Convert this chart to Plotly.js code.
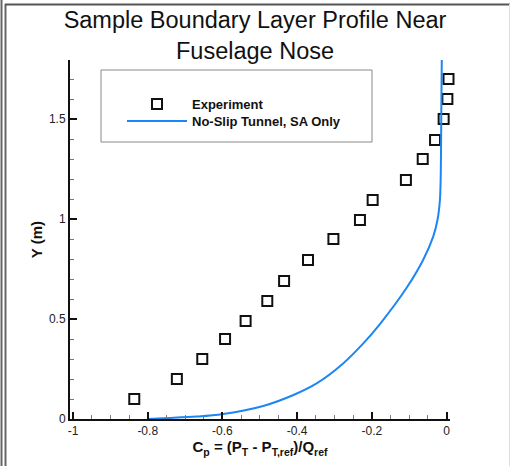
<!DOCTYPE html>
<html>
<head>
<meta charset="utf-8">
<script src="https://cdn.plot.ly/plotly-3.0.1.min.js"></script>
<style>
  html, body { margin: 0; padding: 0; background: #fff; }
  #chart { width: 510px; height: 466px; }
</style>
</head>
<body>
<div id="chart"></div>
<script>
// Experiment (open squares)
const expCp = [-0.836, -0.722, -0.654, -0.593, -0.538, -0.480, -0.435, -0.371, -0.303, -0.232, -0.198, -0.109, -0.064, -0.031, -0.008, 0.002, 0.005];
const expY  = [0.10, 0.20, 0.30, 0.40, 0.49, 0.59, 0.69, 0.795, 0.90, 0.995, 1.095, 1.195, 1.30, 1.395, 1.50, 1.60, 1.70];

// CFD: No-Slip Tunnel, SA Only
const cfdCp = [-0.800, -0.758, -0.669, -0.598, -0.491, -0.410, -0.348, -0.277, -0.223, -0.178, -0.107, -0.063, -0.036, -0.024, -0.018, -0.016, -0.015, -0.014, -0.013];
const cfdY  = [0.000, 0.004, 0.012, 0.025, 0.065, 0.120, 0.178, 0.278, 0.378, 0.476, 0.656, 0.795, 0.912, 1.000, 1.095, 1.200, 1.350, 1.600, 1.795];

// Tick labels
const xTickVals = [-1, -0.8, -0.6, -0.4, -0.2, 0];
const xTickText = ["-1", "-0.8", "-0.6", "-0.4", "-0.2", "0"];
const yTickVals = [0, 0.5, 1, 1.5];
const yTickText = ["0", "0.5", "1", "1.5"];

const font = "Liberation Sans, Arial, Helvetica, sans-serif";

const traces = [
  {
    x: expCp, y: expY, type: "scatter", mode: "markers",
    name: "<b>Experiment</b>", legend: "legend",
    marker: { symbol: "square-open", size: 10, color: "#111", line: { width: 2, color: "#111" } },
    cliponaxis: false
  },
  {
    x: cfdCp, y: cfdY, type: "scatter", mode: "lines",
    name: "<b>No-Slip Tunnel, SA Only</b>", legend: "legend2",
    line: { color: "rgb(28,134,244)", width: 2, shape: "spline", smoothing: 1 },
    cliponaxis: false
  }
];

// plot area: x 70..450 px, y 60..419 px
const L = 70, R = 450, T = 60, B = 419;
function px(p) { return (p - L) / (R - L); }
function py(p) { return (B - p) / (B - T); }

const legendCommon = {
  xanchor: "left", yanchor: "middle",
  bgcolor: "rgba(0,0,0,0)", borderwidth: 0,
  font: { family: font, size: 13, color: "#111" },
  itemwidth: 60
};

const layout = {
  width: 510, height: 466,
  margin: { l: L, r: 510 - R, t: T, b: 466 - B, pad: 0 },
  paper_bgcolor: "#fff", plot_bgcolor: "#fff",
  font: { family: font, color: "#111", size: 12 },
  title: {
    text: "Sample Boundary Layer Profile Near<br>Fuselage Nose",
    font: { family: font, size: 23.5, color: "#111" },
    x: 0.5, xref: "container", xanchor: "center",
    y: 1 - 28 / 466, yref: "container", yanchor: "top"
  },
  showlegend: true,
  legend: Object.assign({ x: px(122), y: py(104) }, legendCommon),
  legend2: Object.assign({ x: px(122), y: py(121) }, legendCommon),
  xaxis: {
    range: [-1.008, 0.009],
    tickmode: "array", tickvals: xTickVals, ticktext: xTickText,
    ticks: "inside", ticklen: 7, tickwidth: 2, tickcolor: "#111",
    minor: { dtick: 0.05, tick0: 0, ticks: "inside", ticklen: 4, tickwidth: 1, tickcolor: "#777", showgrid: false },
    showline: true, linecolor: "#111", linewidth: 2,
    showgrid: false, zeroline: false,
    tickfont: { family: font, size: 12, color: "#222" },
    title: { text: "<b>C<sub>p</sub> = (P<sub>T</sub> - P<sub>T,ref</sub>)/Q<sub>ref</sub></b>", font: { family: font, size: 15, color: "#111" }, standoff: 3 },
    automargin: false, fixedrange: true
  },
  yaxis: {
    range: [0, 1.795],
    tickmode: "array", tickvals: yTickVals, ticktext: yTickText,
    ticks: "inside", ticklen: 7, tickwidth: 2, tickcolor: "#111",
    minor: { dtick: 0.1, tick0: 0, ticks: "inside", ticklen: 4, tickwidth: 1, tickcolor: "#777", showgrid: false },
    showline: true, linecolor: "#111", linewidth: 2,
    showgrid: false, zeroline: false,
    tickfont: { family: font, size: 12, color: "#222" },
    title: { text: "<b>Y (m)</b>", font: { family: font, size: 15, color: "#111" }, standoff: 3 },
    automargin: false, fixedrange: true
  },
  shapes: [
    // legend box
    { type: "rect", xref: "paper", yref: "paper", x0: px(101), x1: px(372), y0: py(142), y1: py(70),
      line: { color: "#888", width: 1 }, fillcolor: "rgba(0,0,0,0)", layer: "below" },
    // outer frame
    { type: "line", xref: "paper", yref: "paper", x0: px(1.5), x1: px(1.5), y0: py(0), y1: py(466), line: { color: "#666", width: 2 } },
    { type: "line", xref: "paper", yref: "paper", x0: px(5.5), x1: px(5.5), y0: py(4), y1: py(466), line: { color: "#666", width: 2 } },
    { type: "line", xref: "paper", yref: "paper", x0: px(5), x1: px(510), y0: py(4.5), y1: py(4.5), line: { color: "#555", width: 2 } },
    { type: "line", xref: "paper", yref: "paper", x0: px(509.5), x1: px(509.5), y0: py(4), y1: py(466), line: { color: "#ddd", width: 1 } }
  ]
};

Plotly.newPlot("chart", traces, layout, { staticPlot: true, displayModeBar: false });
</script>
</body>
</html>
